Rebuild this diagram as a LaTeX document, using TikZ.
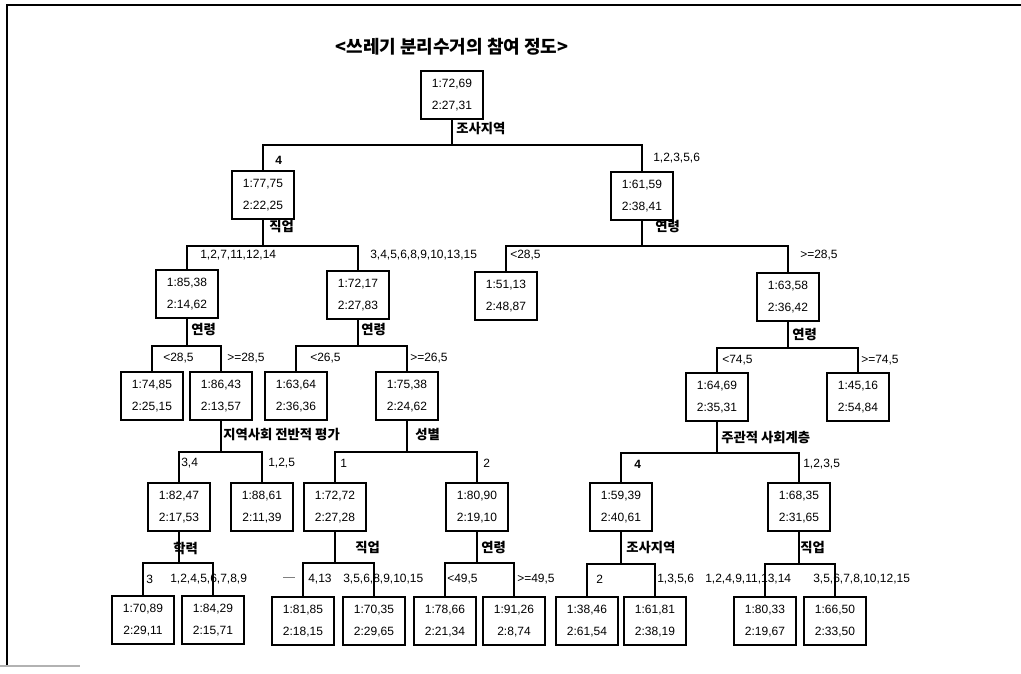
\documentclass[tikz,border=0pt]{standalone}
\usepackage{fontspec}
\setmainfont{Liberation Sans}
\newfontfamily\kr{Noto Sans CJK KR}
\newcommand\tsplit[4]{%
  \coordinate (#1y) at (0,#2);
  \coordinate (#1h) at (#1.south |- #1y);
  \draw[edge] (#1.south) -- (#1h);
  \draw[edge] (#3.north) |- (#1h) -| (#4.north);
}
\begin{document}
\begin{tikzpicture}[x=0.75pt,y=-0.75pt,
  box/.style={draw, line width=1.3pt, minimum width=46.5pt, minimum height=35.5pt, inner sep=0pt, align=center, font=\fontsize{9}{16.5}\selectfont},
  lbl/.style={anchor=west, inner sep=0pt, font=\fontsize{9}{10}\selectfont},
  klbl/.style={anchor=west, inner sep=0pt, font=\kr\bfseries\fontsize{10}{11}\selectfont},
  edge/.style={line width=1pt}]
\useasboundingbox (0,0) rectangle (1021,674);
% frame
\draw[line width=1pt] (7,666) -- (7,5) -- (1021,5);
\draw[line width=1pt, gray!60] (0,666) -- (80,666);
% title
\node[font=\kr\bfseries\fontsize{13.5}{15}\selectfont, inner sep=0pt] (title) at (452,47) {<쓰레기 분리수거의 참여 정도>};
% nodes
\node[box] (n0) at (452,95) {1:72,69\\2:27,31};
\node[box] (n1) at (263,195) {1:77,75\\2:22,25};
\node[box] (n2) at (642,196) {1:61,59\\2:38,41};
\node[box] (n3) at (187,294) {1:85,38\\2:14,62};
\node[box] (n4) at (358,295) {1:72,17\\2:27,83};
\node[box] (n5) at (506,296) {1:51,13\\2:48,87};
\node[box] (n6) at (788,297) {1:63,58\\2:36,42};
\node[box] (n7) at (152,396) {1:74,85\\2:25,15};
\node[box] (n8) at (221,396) {1:86,43\\2:13,57};
\node[box] (n9) at (296,396) {1:63,64\\2:36,36};
\node[box] (n10) at (407,396) {1:75,38\\2:24,62};
\node[box] (n11) at (717,397) {1:64,69\\2:35,31};
\node[box] (n12) at (858,397) {1:45,16\\2:54,84};
\node[box] (n13) at (179,507) {1:82,47\\2:17,53};
\node[box] (n14) at (262,507) {1:88,61\\2:11,39};
\node[box] (n15) at (335,507) {1:72,72\\2:27,28};
\node[box] (n16) at (477,507) {1:80,90\\2:19,10};
\node[box] (n17) at (621,507) {1:59,39\\2:40,61};
\node[box] (n18) at (799,507) {1:68,35\\2:31,65};
\node[box] (n19) at (143,620) {1:70,89\\2:29,11};
\node[box] (n20) at (213,620) {1:84,29\\2:15,71};
\node[box] (n21) at (303,621) {1:81,85\\2:18,15};
\node[box] (n22) at (374,621) {1:70,35\\2:29,65};
\node[box] (n23) at (445,621) {1:78,66\\2:21,34};
\node[box] (n24) at (514,621) {1:91,26\\2:8,74};
\node[box] (n25) at (587,621) {1:38,46\\2:61,54};
\node[box] (n26) at (655,621) {1:61,81\\2:38,19};
\node[box] (n27) at (765,621) {1:80,33\\2:19,67};
\node[box] (n28) at (835,621) {1:66,50\\2:33,50};
% connectors
\tsplit{n0}{145}{n1}{n2}
\tsplit{n1}{246}{n3}{n4}
\tsplit{n2}{246}{n5}{n6}
\tsplit{n3}{346}{n7}{n8}
\tsplit{n4}{346}{n9}{n10}
\tsplit{n6}{348}{n11}{n12}
\tsplit{n8}{452}{n13}{n14}
\tsplit{n10}{452}{n15}{n16}
\tsplit{n11}{453}{n17}{n18}
\tsplit{n13}{563}{n19}{n20}
\tsplit{n15}{563}{n21}{n22}
\tsplit{n16}{563}{n23}{n24}
\tsplit{n17}{564}{n25}{n26}
\tsplit{n18}{564}{n27}{n28}
% split variable labels
\node[klbl] (v0) at (456,129) {조사지역};
\node[klbl] (v1) at (269,227) {직업};
\node[klbl] (v2) at (655,227) {연령};
\node[klbl] (v3) at (191,330) {연령};
\node[klbl] (v4) at (361,330) {연령};
\node[klbl] (v6) at (792,335) {연령};
\node[klbl] (v8) at (223,435) {지역사회 전반적 평가};
\node[klbl] (v10) at (415,435) {성별};
\node[klbl] (v11) at (721,438) {주관적 사회계층};
\node[klbl] (v13) at (173,548) {학력};
\node[klbl] (v15) at (355,548) {직업};
\node[klbl] (v16) at (481,548) {연령};
\node[klbl] (v17) at (626,548) {조사지역};
\node[klbl] (v18) at (800,548) {직업};
% branch labels
\node[lbl, font=\bfseries\fontsize{9}{10}\selectfont] (b1) at (275,160) {4};
\node[lbl] (b2) at (653,158) {1,2,3,5,6};
\node[lbl] (b3) at (200,255) {1,2,7,11,12,14};
\node[lbl] (b4) at (370,255) {3,4,5,6,8,9,10,13,15};
\node[lbl] (b5) at (510,255) {<28,5};
\node[lbl] (b6) at (800,255) {>=28,5};
\node[lbl] (b7) at (163,358) {<28,5};
\node[lbl] (b8) at (227,358) {>=28,5};
\node[lbl] (b9) at (310,358) {<26,5};
\node[lbl] (b10) at (410,358) {>=26,5};
\node[lbl] (b11) at (722,360) {<74,5};
\node[lbl] (b12) at (861,360) {>=74,5};
\node[lbl] (b13) at (181,463) {3,4};
\node[lbl] (b14) at (268,463) {1,2,5};
\node[lbl] (b15) at (340,463) {1};
\node[lbl] (b16) at (483,463) {2};
\node[lbl, font=\bfseries\fontsize{9}{10}\selectfont] (b17) at (634,464) {4};
\node[lbl] (b18) at (803,464) {1,2,3,5};
\node[lbl] (b19) at (146,579) {3};
\node[lbl] (b20) at (170,579) {1,2,4,5,6,7,8,9};
\node[lbl] (b21) at (308,579) {4,13};
\node[lbl] (b22) at (343,579) {3,5,6,8,9,10,15};
\node[lbl] (b23) at (447,579) {<49,5};
\node[lbl] (b24) at (517,579) {>=49,5};
\node[lbl] (b25) at (596,579) {2};
\node[lbl] (b26) at (657,579) {1,3,5,6};
\node[lbl] (b27) at (705,579) {1,2,4,9,11,13,14};
\node[lbl] (b28) at (813,579) {3,5,6,7,8,10,12,15};
% stray mark
\draw[line width=0.6pt, gray] (283,577) -- (295,577);
\end{tikzpicture}
\end{document}
